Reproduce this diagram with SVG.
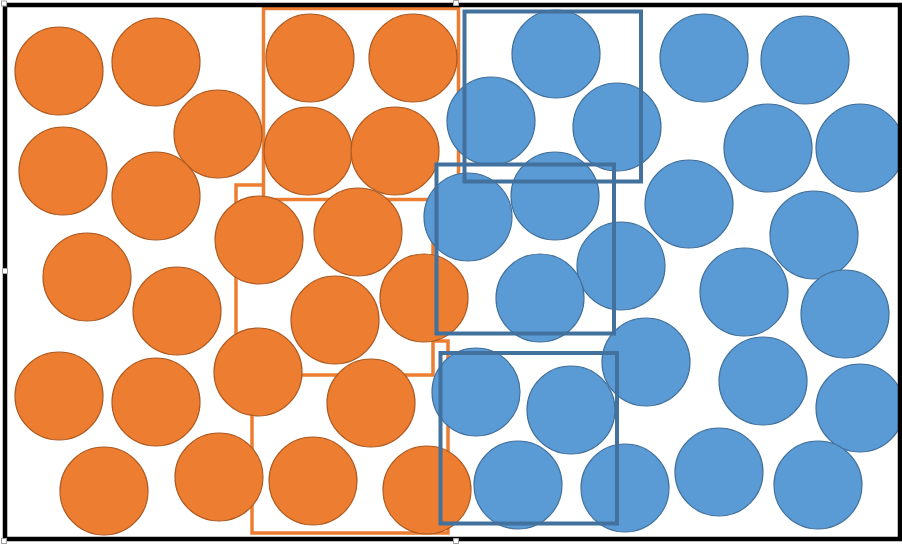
<svg xmlns="http://www.w3.org/2000/svg" width="902" height="544" viewBox="0 0 902 544">
<defs>
<style>
.o{fill:#ED7D31;stroke:#AE5A21;stroke-width:1.2}
.b{fill:#5B9BD5;stroke:#41719C;stroke-width:1.2}
.orect{fill:#FFFFFF;stroke:#ED7D31;stroke-width:3.5}
.brect{fill:none;stroke:#41719C;stroke-width:4}
.h{fill:#FFFFFF;stroke:#A0A0A0;stroke-width:1}
</style>
</defs>
<rect x="0" y="0" width="902" height="544" fill="#FFFFFF"/>
<g id="orange-boxes">
<rect class="orect" x="252" y="341" width="196" height="192"/>
<rect class="orect" x="236" y="185" width="197" height="190"/>
<rect class="orect" x="263.5" y="8.5" width="195" height="191"/>
</g>
<g id="orange-circles">
<circle class="o" cx="59" cy="71" r="44"/>
<circle class="o" cx="156" cy="62" r="44"/>
<circle class="o" cx="310" cy="58" r="44"/>
<circle class="o" cx="413" cy="58" r="44"/>
<circle class="o" cx="218" cy="134" r="44"/>
<circle class="o" cx="63" cy="171" r="44"/>
<circle class="o" cx="156" cy="196" r="44"/>
<circle class="o" cx="308" cy="151" r="44"/>
<circle class="o" cx="395" cy="151" r="44"/>
<circle class="o" cx="259" cy="240" r="44"/>
<circle class="o" cx="358" cy="232" r="44"/>
<circle class="o" cx="87" cy="277" r="44"/>
<circle class="o" cx="177" cy="311" r="44"/>
<circle class="o" cx="335" cy="320" r="44"/>
<circle class="o" cx="424" cy="298" r="44"/>
<circle class="o" cx="258" cy="372" r="44"/>
<circle class="o" cx="59" cy="396" r="44"/>
<circle class="o" cx="156" cy="402" r="44"/>
<circle class="o" cx="371" cy="403" r="44"/>
<circle class="o" cx="104" cy="491" r="44"/>
<circle class="o" cx="219" cy="477" r="44"/>
<circle class="o" cx="313" cy="481" r="44"/>
<circle class="o" cx="427" cy="490" r="44"/>
</g>
<g id="blue-circles">
<circle class="b" cx="556" cy="54" r="44"/>
<circle class="b" cx="491" cy="121" r="44"/>
<circle class="b" cx="617" cy="127" r="44"/>
<circle class="b" cx="555" cy="196" r="44"/>
<circle class="b" cx="468" cy="217" r="44"/>
<circle class="b" cx="621" cy="266" r="44"/>
<circle class="b" cx="540" cy="298" r="44"/>
<circle class="b" cx="646" cy="362" r="44"/>
<circle class="b" cx="476" cy="392" r="44"/>
<circle class="b" cx="571" cy="410" r="44"/>
<circle class="b" cx="518" cy="485" r="44"/>
<circle class="b" cx="625" cy="488" r="44"/>
<circle class="b" cx="704" cy="58" r="44"/>
<circle class="b" cx="805" cy="60" r="44"/>
<circle class="b" cx="768" cy="148" r="44"/>
<circle class="b" cx="860" cy="148" r="44"/>
<circle class="b" cx="689" cy="204" r="44"/>
<circle class="b" cx="814" cy="235" r="44"/>
<circle class="b" cx="744" cy="292" r="44"/>
<circle class="b" cx="845" cy="314" r="44"/>
<circle class="b" cx="763" cy="381" r="44"/>
<circle class="b" cx="860" cy="408" r="44"/>
<circle class="b" cx="719" cy="472" r="44"/>
<circle class="b" cx="818" cy="485" r="44"/>
</g>
<g id="blue-boxes">
<rect class="brect" x="464.5" y="11.5" width="176.5" height="170"/>
<rect class="brect" x="436.5" y="164.5" width="177.5" height="169"/>
<rect class="brect" x="440.5" y="353" width="176.5" height="170.5"/>
</g>
<g id="frame">
<rect x="5" y="5" width="895" height="534" fill="none" stroke="#000000" stroke-width="4.5"/>
</g>
<g id="handles">
<rect class="h" x="1.5" y="1" width="5" height="5"/>
<rect class="h" x="453.5" y="0.5" width="5" height="5"/>
<rect class="h" x="2.5" y="268.5" width="5" height="5"/>
<rect class="h" x="1.5" y="538.5" width="5" height="5"/>
<rect class="h" x="453.5" y="538.5" width="5" height="5"/>
</g>
</svg>
